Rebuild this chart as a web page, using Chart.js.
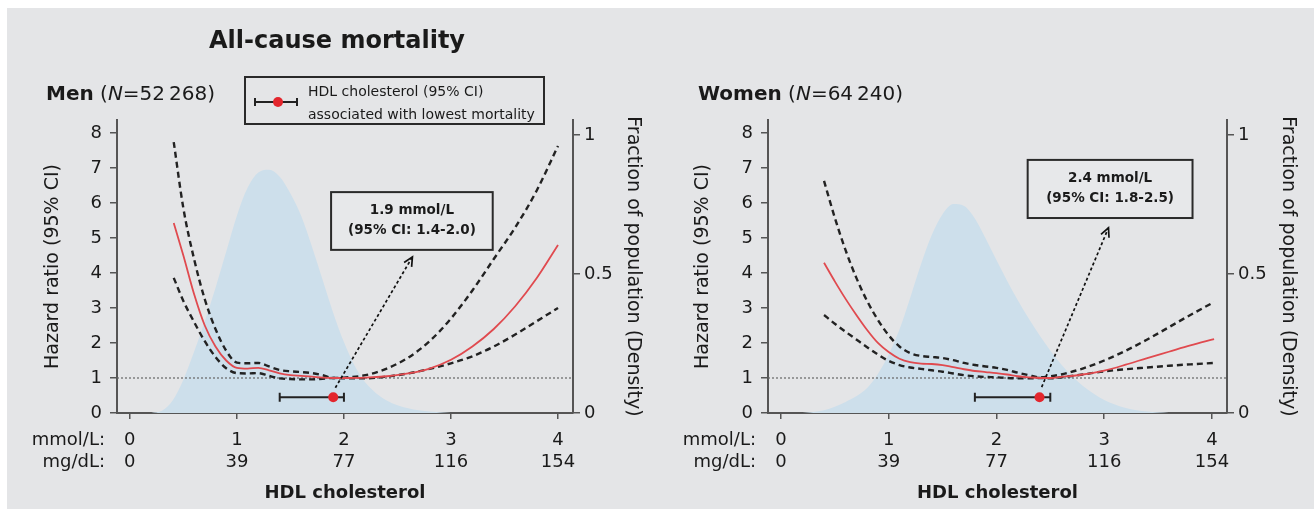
<!DOCTYPE html>
<html>
<head>
<meta charset="utf-8">
<title>All-cause mortality</title>
<script src="https://cdn.jsdelivr.net/npm/chart.js@4.4.1/dist/chart.umd.min.js"></script>
<style>
    body { margin: 0; background: #fff; width: 1316px; height: 509px; overflow: hidden;
           font-family: "DejaVu Sans", sans-serif; color: #1a1a1a; position: relative; }
    #panel { position: absolute; left: 7px; top: 8px; width: 1307px; height: 501px; background: #e4e5e7; }
    canvas { position: absolute; top: 0; }
    .txt { position: absolute; white-space: nowrap; }
    #title { left: 337px; top: 28px; font-size: 24px; line-height: 24px; font-weight: bold; transform: translateX(-50%); }
    .head { top: 83px; font-size: 20px; line-height: 20px; }
    .head b { font-weight: bold; }
    #legend { position: absolute; left: 244px; top: 76px; width: 301px; height: 49px; box-sizing: border-box;
              border: 2px solid #2a2a2a; }
    .lg { font-size: 14px; line-height: 14px; left: 308px; }
    .lg-line { position: absolute; left: 254px; top: 101px; width: 44px; height: 2px; background: #222; }
    .lg-cap { position: absolute; top: 98px; width: 2px; height: 8px; background: #222; }
    .lg-dot { position: absolute; left: 273px; top: 97px; width: 10px; height: 10px; border-radius: 50%; background: #e3262d; }
</style>
</head>
<body>
<div id="panel"></div>
<canvas id="men-chart" width="658" height="509" style="left:0px"></canvas>
<canvas id="women-chart" width="658" height="509" style="left:658px"></canvas>

<div class="txt" id="title">All-cause mortality</div>
<div class="txt head" style="left:46px"><b>Men</b> (<i>N</i>=52&#8201;268)</div>
<div class="txt head" style="left:698px"><b>Women</b> (<i>N</i>=64&#8201;240)</div>

<div id="legend"></div>
<div class="lg-line"></div>
<div class="lg-cap" style="left:254px"></div>
<div class="lg-cap" style="left:296px"></div>
<div class="lg-dot"></div>
<div class="txt lg" style="top:84px">HDL cholesterol (95% CI)</div>
<div class="txt lg" style="top:107px">associated with lowest mortality</div>

<script>
// axis ticks
var xTicks = [0, 1, 2, 3, 4];
var mmolLabels = ['0', '1', '2', '3', '4'];
var mgdlLabels = ['0', '39', '77', '116', '154'];
var hrTicks = [0, 1, 2, 3, 4, 5, 6, 7, 8];
var densityTicks = [0, 0.5, 1];

// men - hazard ratio curve and 95% CI (HDL in mmol/L)
var menHdl   = [0.41, 0.5, 0.6, 0.7, 0.8, 0.9, 1.0, 1.1, 1.2, 1.3, 1.4, 1.5, 1.6, 1.7, 1.8, 1.9, 2.0, 2.2, 2.4, 2.6, 2.8, 3.0, 3.2, 3.4, 3.6, 3.8, 4.0];
var menHr    = [5.43, 4.5, 3.4, 2.5, 1.9, 1.5, 1.29, 1.27, 1.29, 1.22, 1.13, 1.08, 1.06, 1.04, 1.01, 1.0, 1.0, 1.01, 1.05, 1.13, 1.27, 1.52, 1.9, 2.4, 3.05, 3.85, 4.8];
var menUpper = [7.74, 5.85, 4.4, 3.25, 2.4, 1.78, 1.44, 1.42, 1.43, 1.33, 1.23, 1.19, 1.17, 1.14, 1.08, 1.0, 1.01, 1.08, 1.27, 1.58, 2.05, 2.7, 3.5, 4.4, 5.3, 6.35, 7.63];
var menLower = [3.86, 3.2, 2.6, 2.05, 1.6, 1.28, 1.14, 1.13, 1.14, 1.06, 0.99, 0.97, 0.96, 0.96, 0.98, 1.0, 0.99, 0.99, 1.04, 1.13, 1.26, 1.42, 1.62, 1.9, 2.24, 2.62, 3.0];
// men - population density
var menDensHdl = [0.2, 0.3, 0.4, 0.5, 0.6, 0.7, 0.8, 0.9, 1.0, 1.1, 1.2, 1.3, 1.4, 1.5, 1.6, 1.7, 1.8, 1.9, 2.0, 2.1, 2.2, 2.4, 2.6, 2.8, 3.0];
var menDensity = [0, 0.008, 0.045, 0.12, 0.22, 0.33, 0.45, 0.58, 0.71, 0.81, 0.865, 0.875, 0.85, 0.79, 0.71, 0.6, 0.48, 0.36, 0.255, 0.17, 0.11, 0.045, 0.017, 0.005, 0];
// men - HDL with lowest mortality (95% CI)
var menBest = [1.9, 1.4, 2.0];

// women
var womenHdl   = [0.4, 0.5, 0.6, 0.7, 0.8, 0.9, 1.0, 1.1, 1.2, 1.3, 1.4, 1.5, 1.6, 1.7, 1.8, 1.9, 2.0, 2.1, 2.2, 2.3, 2.4, 2.5, 2.6, 2.8, 3.0, 3.2, 3.4, 3.6, 3.8, 4.02];
var womenHr    = [4.29, 3.76, 3.26, 2.8, 2.37, 2.0, 1.74, 1.55, 1.45, 1.41, 1.4, 1.37, 1.31, 1.25, 1.2, 1.17, 1.14, 1.1, 1.05, 1.02, 1.0, 1.0, 1.03, 1.1, 1.21, 1.38, 1.57, 1.75, 1.93, 2.11];
var womenUpper = [6.63, 5.58, 4.65, 3.86, 3.2, 2.66, 2.22, 1.9, 1.71, 1.63, 1.6, 1.57, 1.51, 1.43, 1.37, 1.33, 1.29, 1.23, 1.15, 1.08, 1.02, 1.05, 1.1, 1.27, 1.5, 1.78, 2.1, 2.45, 2.8, 3.17];
var womenLower = [2.8, 2.55, 2.32, 2.1, 1.88, 1.67, 1.49, 1.37, 1.3, 1.26, 1.22, 1.18, 1.13, 1.08, 1.05, 1.03, 1.02, 1.0, 0.99, 0.99, 1.0, 0.99, 1.02, 1.1, 1.19, 1.25, 1.3, 1.35, 1.39, 1.43];
var womenDensHdl = [0.2, 0.4, 0.6, 0.8, 0.9, 1.0, 1.1, 1.2, 1.3, 1.4, 1.5, 1.6, 1.7, 1.8, 1.9, 2.0, 2.1, 2.2, 2.3, 2.4, 2.5, 2.6, 2.7, 2.8, 2.9, 3.0, 3.2, 3.4, 3.6];
var womenDensity = [0, 0.01, 0.04, 0.09, 0.14, 0.21, 0.3, 0.415, 0.535, 0.64, 0.715, 0.752, 0.745, 0.7, 0.628, 0.55, 0.475, 0.405, 0.34, 0.28, 0.225, 0.175, 0.133, 0.098, 0.07, 0.047, 0.018, 0.005, 0];
var womenBest = [2.4, 1.8, 2.5];

// annotation texts
var menNote = ['1.9 mmol/L', '(95% CI: 1.4-2.0)'];
var womenNote = ['2.4 mmol/L', '(95% CI: 1.8-2.5)'];

var fontFamily = '"DejaVu Sans", sans-serif';
var red = '#e3262d';
var axisColor = '#555';
var markY = 0.45; // hazard ratio level where the optimum marker sits

Chart.defaults.font.family = fontFamily;
Chart.defaults.color = '#1a1a1a';

function zip(xs, ys) {
    return xs.map(function(x, i) { return {x: x, y: ys[i]}; });
}

function drawArrow(ctx, x1, y1, x2, y2) {
    ctx.save();
    ctx.strokeStyle = '#111';
    ctx.lineWidth = 1.7;
    ctx.setLineDash([3, 2.5]);
    ctx.beginPath();
    ctx.moveTo(x1, y1);
    ctx.lineTo(x2, y2);
    ctx.stroke();
    ctx.setLineDash([]);
    var a = Math.atan2(y2 - y1, x2 - x1), h = 10;
    ctx.beginPath();
    ctx.moveTo(x2 - h * Math.cos(a - 0.45), y2 - h * Math.sin(a - 0.45));
    ctx.lineTo(x2, y2);
    ctx.lineTo(x2 - h * Math.cos(a + 0.45), y2 - h * Math.sin(a + 0.45));
    ctx.stroke();
    ctx.restore();
}

// arrow, note box and the mmol/L, mg/dL row names
var hdlExtras = {
    id: 'hdlExtras',
    afterDatasetsDraw: function(chart, args, opts) {
        var ctx = chart.ctx, xs = chart.scales.x, ys = chart.scales.y;
        var a = opts.arrow;
        drawArrow(ctx, xs.getPixelForValue(a[0]), ys.getPixelForValue(a[1]),
                  xs.getPixelForValue(a[2]), ys.getPixelForValue(a[3]));

        var b = opts.box;
        var left = xs.getPixelForValue(b[0]), right = xs.getPixelForValue(b[1]);
        var top = ys.getPixelForValue(b[3]), bottom = ys.getPixelForValue(b[2]);
        ctx.save();
        ctx.fillStyle = '#e7e8ea';
        ctx.fillRect(left, top, right - left, bottom - top);
        ctx.strokeStyle = '#2a2a2a';
        ctx.lineWidth = 2;
        ctx.strokeRect(left, top, right - left, bottom - top);
        ctx.fillStyle = '#1a1a1a';
        ctx.font = 'bold 13.5px ' + fontFamily;
        ctx.textAlign = 'center';
        ctx.textBaseline = 'middle';
        var cx = (left + right) / 2, cy = (top + bottom) / 2;
        ctx.fillText(opts.note[0], cx, cy - 10);
        ctx.fillText(opts.note[1], cx, cy + 10);
        ctx.restore();
    },
    afterDraw: function(chart) {
        var ctx = chart.ctx, area = chart.chartArea;
        ctx.save();
        ctx.fillStyle = '#1a1a1a';
        ctx.font = '18px ' + fontFamily;
        ctx.textAlign = 'right';
        ctx.textBaseline = 'middle';
        ctx.fillText('mmol/L:', area.left - 12, area.bottom + 27);
        ctx.fillText('mg/dL:', area.left - 12, area.bottom + 49);
        ctx.restore();
    }
};

function drawChart(canvasId, p) {
    var ctx = document.getElementById(canvasId).getContext('2d');
    var datasets = [{
        label: 'Density',
        data: zip(p.densHdl, p.density),
        yAxisID: 'y2',
        fill: 'origin',
        backgroundColor: '#cddfeb',
        borderWidth: 0,
        pointRadius: 0,
        cubicInterpolationMode: 'monotone',
        order: 5
    }, {
        label: 'Reference',
        data: [{x: -0.12, y: 1}, {x: 4.14, y: 1}],
        borderColor: '#666',
        borderWidth: 1.2,
        borderDash: [2, 2],
        pointRadius: 0,
        order: 4
    }, {
        label: 'Upper CI',
        data: zip(p.hdl, p.upper),
        borderColor: '#222',
        borderWidth: 2.4,
        borderDash: [6, 4],
        pointRadius: 0,
        cubicInterpolationMode: 'monotone',
        order: 3
    }, {
        label: 'Lower CI',
        data: zip(p.hdl, p.lower),
        borderColor: '#222',
        borderWidth: 2.4,
        borderDash: [6, 4],
        pointRadius: 0,
        cubicInterpolationMode: 'monotone',
        order: 3
    }, {
        label: 'Hazard ratio',
        data: zip(p.hdl, p.hr),
        borderColor: '#e04a4f',
        borderWidth: 1.8,
        pointRadius: 0,
        cubicInterpolationMode: 'monotone',
        order: 2
    }, {
        label: 'CI of optimum',
        data: [{x: p.best[1], y: markY}, {x: p.best[2], y: markY}],
        borderColor: '#222',
        borderWidth: 2,
        pointStyle: 'line',
        rotation: 90,
        pointRadius: 4.5,
        pointBorderWidth: 2,
        pointBorderColor: '#222',
        order: 1
    }, {
        label: 'Optimum',
        type: 'scatter',
        data: [{x: p.best[0], y: markY}],
        pointRadius: 5,
        pointBorderWidth: 0,
        backgroundColor: red,
        order: 0
    }];

    var tickFont = {family: fontFamily, size: 18};
    return new Chart(ctx, {
        type: 'line',
        data: {datasets: datasets},
        options: {
            responsive: false,
            animation: false,
            events: [],
            layout: {padding: {top: 120, left: 0, right: 0, bottom: 0}},
            plugins: {
                legend: {display: false},
                tooltip: {enabled: false},
                hdlExtras: {arrow: p.arrow, box: p.box, note: p.note}
            },
            scales: {
                x: {
                    type: 'linear',
                    min: -0.12,
                    max: 4.14,
                    afterBuildTicks: function(s) { s.ticks = xTicks.map(function(v) { return {value: v}; }); },
                    afterFit: function(s) { s.height = 96; },
                    grid: {drawOnChartArea: false, tickLength: 6, color: axisColor, lineWidth: 1.5},
                    border: {color: axisColor, width: 2},
                    ticks: {
                        font: {family: fontFamily, size: 18, lineHeight: 1.22},
                        color: '#1a1a1a',
                        padding: 10,
                        maxRotation: 0,
                        autoSkip: false,
                        callback: function(v) {
                            var i = xTicks.indexOf(v);
                            return [mmolLabels[i], mgdlLabels[i]];
                        }
                    },
                    title: {
                        display: true,
                        text: 'HDL cholesterol',
                        font: {family: fontFamily, size: 18, weight: 'bold'},
                        color: '#1a1a1a',
                        padding: {top: 0, bottom: 5}
                    }
                },
                y: {
                    position: 'left',
                    min: 0,
                    max: 8.37,
                    afterBuildTicks: function(s) { s.ticks = hrTicks.map(function(v) { return {value: v}; }); },
                    afterFit: function(s) { s.width = p.leftW; },
                    grid: {drawOnChartArea: false, tickLength: 7, color: axisColor, lineWidth: 1.5},
                    border: {color: axisColor, width: 2},
                    ticks: {font: tickFont, color: '#1a1a1a', padding: 8, callback: function(v) { return String(v); }},
                    title: {
                        display: true,
                        text: 'Hazard ratio (95% CI)',
                        font: {family: fontFamily, size: 19},
                        color: '#1a1a1a',
                        padding: {top: p.leftTitlePad, bottom: 0}
                    }
                },
                y2: {
                    position: 'right',
                    min: 0,
                    max: 1.054,
                    afterBuildTicks: function(s) { s.ticks = densityTicks.map(function(v) { return {value: v}; }); },
                    afterFit: function(s) { s.width = p.rightW; },
                    grid: {drawOnChartArea: false, tickLength: 7, color: axisColor, lineWidth: 1.5},
                    border: {color: axisColor, width: 2},
                    ticks: {font: tickFont, color: '#1a1a1a', padding: 4, callback: function(v) { return String(v); }},
                    title: {
                        display: true,
                        text: 'Fraction of population (Density)',
                        font: {family: fontFamily, size: 19},
                        color: '#1a1a1a',
                        padding: {top: p.rightTitlePad, bottom: 0}
                    }
                }
            }
        },
        plugins: [hdlExtras]
    });
}

drawChart('men-chart', {
    hdl: menHdl, hr: menHr, upper: menUpper, lower: menLower,
    densHdl: menDensHdl, density: menDensity, best: menBest, note: menNote,
    arrow: [1.92, 0.72, 2.64, 4.46],
    box: [1.88, 3.39, 4.66, 6.31],
    leftW: 117, rightW: 85, leftTitlePad: 42, rightTitlePad: 14
});

drawChart('women-chart', {
    hdl: womenHdl, hr: womenHr, upper: womenUpper, lower: womenLower,
    densHdl: womenDensHdl, density: womenDensity, best: womenBest, note: womenNote,
    arrow: [2.42, 0.74, 3.04, 5.29],
    box: [2.29, 3.82, 5.57, 7.23],
    leftW: 110, rightW: 89, leftTitlePad: 34, rightTitlePad: 17
});
</script>
</body>
</html>
